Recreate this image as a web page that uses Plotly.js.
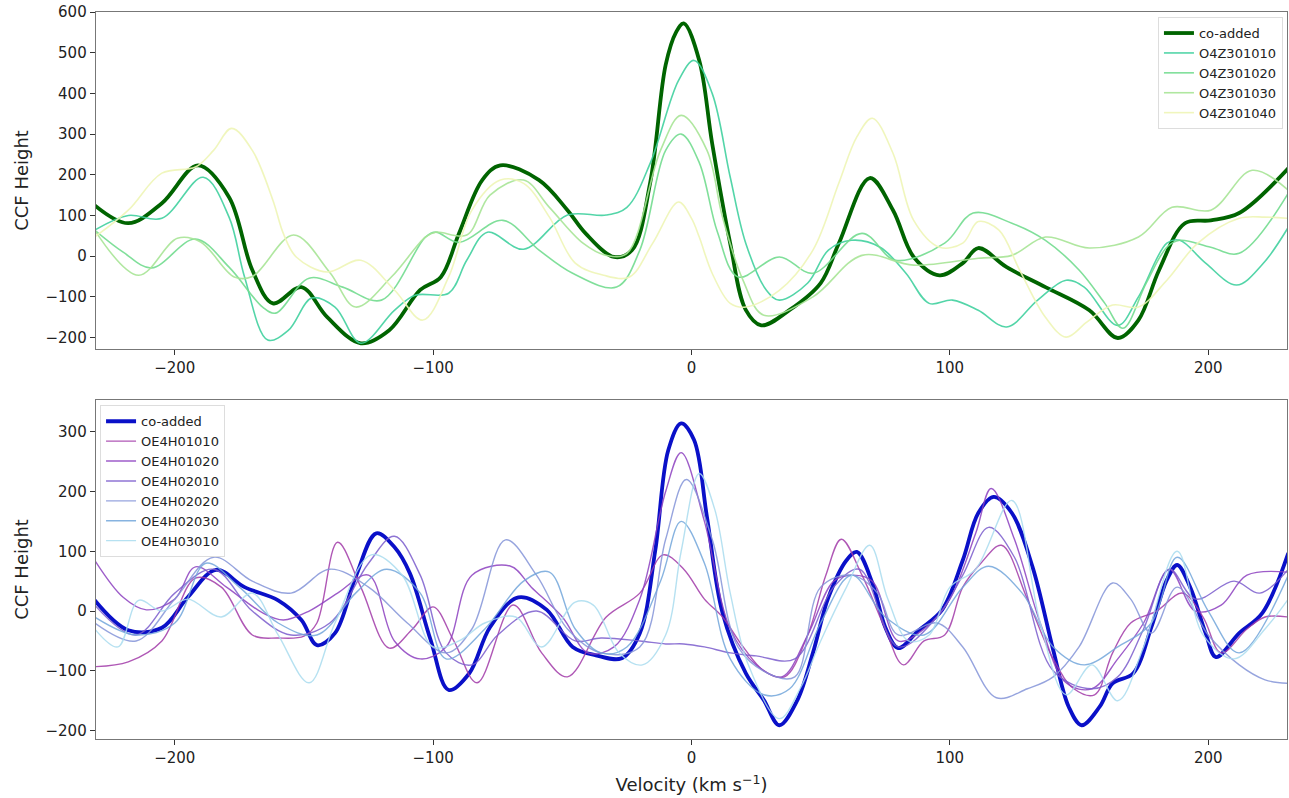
<!DOCTYPE html>
<html><head><meta charset="utf-8">
<script src="https://cdn.plot.ly/plotly-3.0.1.min.js"></script>
<style>html,body{margin:0;padding:0;background:#fff}#chart{width:1289px;height:798px}</style>
</head><body><div id="chart"></div>
<script>
// ---------- TOP PANEL (O4Z3) ----------
const topNames = ["co-added","O4Z301010","O4Z301020","O4Z301030","O4Z301040"];
const topCoX = [-231,-218,-205,-191,-179,-170,-162,-151,-141,-128,-117,-105,-97,-90,-81,-74,-59,-48,-41,-30,-23,-16,-10,-6,-3,3,8,15,21,27,38,50,57,69,78,86,96,105,111,122,137,154,165,173,181,191,201,212,231];
const topCoY = [125,81,130,223,145,-34,-116,-76,-150,-214,-182,-83,-51,56,187,223,187,113,56,-2,15,180,470,550,572,481,277,31,-132,-170,-132,-66,31,192,113,-2,-47,-17,20,-27,-76,-133,-201,-157,-34,81,88,106,216];
const top010X = [-231,-218,-205,-189,-179,-173,-164,-156,-147,-138,-128,-115,-107,-94,-87,-79,-65,-48,-33,-25,-16,-5,1,8,15,21,29,34,45,53,62,73,83,92,101,111,122,134,145,152,165,173,184,189,199,211,221,231];
const top010Y = [64,100,93,194,96,-51,-206,-182,-103,-125,-214,-133,-96,-91,-10,59,17,101,101,120,228,432,481,400,194,32,-84,-108,-66,15,39,22,-42,-116,-108,-133,-174,-108,-59,-76,-170,-100,32,39,-17,-71,-20,71];
const top020X = [-231,-220,-209,-192,-179,-166,-161,-148,-135,-120,-103,-99,-90,-73,-59,-46,-29,-20,-10,-4,3,10,18,34,47,66,79,98,109,124,137,150,160,167,176,184,189,201,212,231];
const top020Y = [64,10,-29,42,-27,-125,-140,-54,-76,-108,47,59,34,88,15,-42,-76,15,260,300,230,60,-51,-2,-42,56,-10,32,106,81,39,-34,-116,-177,-66,22,39,22,7,155];
const top030X = [-231,-214,-199,-190,-177,-170,-154,-140,-130,-116,-103,-99,-87,-78,-65,-55,-42,-33,-25,-12,-4,6,12,20,28,47,66,86,111,124,137,154,173,186,201,217,231];
const top030Y = [64,-47,44,35,-51,-50,52,-40,-125,-50,47,59,52,150,187,120,32,2,7,260,346,260,96,-60,-145,-100,2,-22,-5,2,47,20,47,120,113,211,162];
const top040X = [-231,-218,-205,-192,-185,-178,-170,-162,-158,-153,-141,-128,-115,-104,-94,-85,-74,-65,-55,-45,-34,-24,-15,-5,0,3,8,15,21,34,47,57,64,70,78,86,96,105,111,119,127,137,145,153,163,173,184,196,212,222,231];
const top040Y = [47,113,204,219,260,314,260,137,56,-2,-39,-10,-83,-157,-51,113,187,179,96,-17,-47,-51,32,133,93,47,-42,-116,-125,-84,15,179,293,339,253,88,22,32,85,64,-34,-150,-199,-162,-120,-125,-59,32,93,96,93];

// ---------- BOTTOM PANEL (OE4H) ----------
const botNames = ["co-added","OE4H01010","OE4H01020","OE4H02010","OE4H02020","OE4H02030","OE4H03010"];
const botCoX = [-231,-218,-205,-195,-184,-173,-160,-151,-145,-138,-130,-122,-115,-109,-101,-94,-86,-78,-67,-56,-46,-37,-27,-20,-14,-9,-4,1,6,12,21,28,34,41,47,53,60,64,70,75,80,88,97,105,111,117,124,132,140,146,151,158,163,171,178,184,188,193,199,203,212,221,231];
const botCoY = [18,-32,-28,23,69,40,18,-15,-57,-37,57,130,107,63,-48,-132,-104,-27,23,2,-60,-74,-79,-37,102,269,314,286,157,-3,-104,-149,-191,-149,-70,23,85,99,47,-27,-62,-32,2,85,164,191,164,74,-65,-160,-191,-160,-121,-104,-27,52,77,40,-37,-77,-37,-3,97];
const bot01010X = [-231,-218,-205,-192,-182,-170,-160,-150,-145,-137,-128,-117,-108,-100,-92,-83,-69,-58,-48,-33,-20,-11,-3,5,12,20,28,36,45,52,58,66,75,82,90,98,105,112,120,130,140,148,156,163,170,180,190,198,205,215,222,231];
const bot01010Y = [-93,-85,-50,55,40,-40,-45,-42,-20,115,40,-62,-30,7,-50,-120,10,-70,-110,-10,30,94,70,20,-10,-60,-100,-110,-40,60,120,60,-30,-90,-50,-40,40,80,110,20,-80,-130,-140,-70,-20,0,30,-10,-70,-30,-10,-10];
const bot01020X = [-231,-220,-211,-200,-192,-180,-166,-158,-148,-137,-125,-115,-105,-95,-85,-70,-62,-50,-40,-30,-20,-10,-4,5,15,25,35,45,55,62,70,80,90,100,110,116,125,135,145,155,165,175,185,195,205,215,231];
const bot01020Y = [85,23,2,20,74,40,-3,-15,0,30,60,-50,-80,-60,60,75,40,-10,-70,-60,20,200,265,150,-30,-90,-110,-40,50,60,50,-50,-30,20,130,205,120,-20,-120,-130,-80,-20,70,0,10,60,65];
const bot02010X = [-231,-215,-200,-185,-170,-155,-140,-125,-115,-105,-95,-85,-75,-60,-45,-35,-20,-10,-3,5,15,25,40,55,65,80,95,105,115,125,140,155,165,175,185,195,210,220,231];
const bot02010Y = [10,-40,30,70,0,-40,-20,80,125,60,-70,-90,-40,0,-50,-45,-50,-55,-55,-60,-70,-75,-80,40,70,-60,-10,60,140,90,-100,-130,-110,-30,70,20,50,30,70];
const bot02020X = [-231,-215,-200,-185,-170,-155,-140,-125,-110,-95,-85,-72,-60,-48,-35,-20,-10,-2,8,18,30,40,50,62,72,80,95,105,118,130,140,150,163,170,178,188,200,212,222,231];
const bot02020Y = [-20,-50,20,90,50,30,70,40,-20,-70,-30,119,60,-30,-70,-60,120,220,120,-60,-105,-110,40,60,30,-40,-20,-60,-145,-130,-110,-60,47,20,-37,40,-40,-90,-115,-121];
const bot02030X = [-231,-215,-200,-188,-175,-160,-145,-130,-118,-105,-95,-80,-65,-55,-45,-35,-25,-12,-4,5,15,28,38,50,62,75,90,105,115,128,140,152,165,178,188,200,212,231];
const bot02030Y = [-10,-40,-20,80,40,-20,-40,30,70,30,-80,-30,50,65,-30,-70,-60,50,150,80,-80,-140,-130,-20,60,-10,-40,40,75,30,-60,-90,-60,-20,90,0,-70,60];
const bot03010X = [-231,-222,-214,-205,-195,-182,-170,-160,-148,-138,-124,-112,-100,-90,-80,-68,-58,-45,-38,-28,-19,-10,-4,3,9,15,22,34,42,50,60,69,76,84,92,100,110,124,135,145,155,165,175,188,198,210,222,231];
const bot03010Y = [-30,-60,18,0,20,-10,30,-40,-120,-20,94,60,-60,-50,-20,-10,-60,15,10,-70,-90,-40,100,230,170,30,-90,-180,-130,-50,40,110,20,-50,-40,40,70,185,-20,-140,-90,-150,-60,100,-40,-80,-30,20];

const topColors = ["#006400","#40d09e","#72dc8f","#a7e496","#eef5b6"];
const botColors = ["#0a10c8","#a13aa8","#8c40c0","#7a5ccc","#8494d8","#72a6da","#a9dcee"];

const traces = [];
const topXs = [topCoX, top010X, top020X, top030X, top040X];
const topYs = [topCoY, top010Y, top020Y, top030Y, top040Y];
for (let i = 0; i < 5; i++) {
  traces.push({x: topXs[i], y: topYs[i], name: topNames[i], type: 'scatter', mode: 'lines',
    xaxis: 'x', yaxis: 'y', legend: 'legend',
    line: {color: topColors[i], width: i === 0 ? 3.8 : 1.6, shape: 'spline', smoothing: 1.0},
    opacity: i === 0 ? 1 : 0.9});
}
const botXs = [botCoX, bot01010X, bot01020X, bot02010X, bot02020X, bot02030X, bot03010X];
const botYs = [botCoY, bot01010Y, bot01020Y, bot02010Y, bot02020Y, bot02030Y, bot03010Y];
for (let i = 0; i < 7; i++) {
  traces.push({x: botXs[i], y: botYs[i], name: botNames[i], type: 'scatter', mode: 'lines',
    xaxis: 'x2', yaxis: 'y2', legend: 'legend2',
    line: {color: botColors[i], width: i === 0 ? 3.8 : 1.4, shape: 'spline', smoothing: 1.0},
    opacity: i === 0 ? 1 : 0.85});
}

const axisCommon = {
  showline: true, mirror: true, linecolor: '#777', linewidth: 1.3,
  ticks: 'outside', ticklen: 5, tickwidth: 1, tickcolor: '#333',
  showgrid: false, zeroline: false,
  tickfont: {family: 'DejaVu Sans', size: 15, color: '#222'}
};
const layout = {
  width: 1289, height: 798,
  margin: {l: 96, r: 2, t: 12, b: 59},
  paper_bgcolor: '#fff', plot_bgcolor: '#fff',
  showlegend: true,
  font: {family: 'DejaVu Sans', color: '#222'},
  xaxis: Object.assign({}, axisCommon, {domain: [0, 1], range: [-230.5, 230.5], anchor: 'y',
    tickvals: [-200, -100, 0, 100, 200]}),
  yaxis: Object.assign({}, axisCommon, {domain: [0.5365, 1], range: [-228, 600], anchor: 'x',
    tickvals: [-200, -100, 0, 100, 200, 300, 400, 500, 600],
    title: {text: 'CCF Height', font: {family: 'DejaVu Sans', size: 18, color: '#222'}, standoff: 12}}),
  xaxis2: Object.assign({}, axisCommon, {domain: [0, 1], range: [-230.5, 230.5], anchor: 'y2',
    tickvals: [-200, -100, 0, 100, 200],
    title: {text: 'Velocity (km s<sup>−1</sup>)', font: {family: 'DejaVu Sans', size: 18, color: '#222'}, standoff: 12}}),
  yaxis2: Object.assign({}, axisCommon, {domain: [0, 0.4663], range: [-214, 353], anchor: 'x2',
    tickvals: [-200, -100, 0, 100, 200, 300],
    title: {text: 'CCF Height', font: {family: 'DejaVu Sans', size: 18, color: '#222'}, standoff: 12}}),
  legend: {x: 0.9966, xanchor: 'right', y: 0.993, yanchor: 'top',
    bgcolor: 'rgba(255,255,255,0.85)', bordercolor: '#ddd', borderwidth: 1,
    font: {family: 'DejaVu Sans', size: 13, color: '#222'}, itemwidth: 30, tracegroupgap: 0},
  legend2: {x: 0.0034, xanchor: 'left', y: 0.459, yanchor: 'top',
    bgcolor: 'rgba(255,255,255,0.85)', bordercolor: '#ddd', borderwidth: 1,
    font: {family: 'DejaVu Sans', size: 13, color: '#222'}, itemwidth: 30, tracegroupgap: 0}
};
Plotly.newPlot('chart', traces, layout, {displayModeBar: false, staticPlot: true});
</script></body></html>
